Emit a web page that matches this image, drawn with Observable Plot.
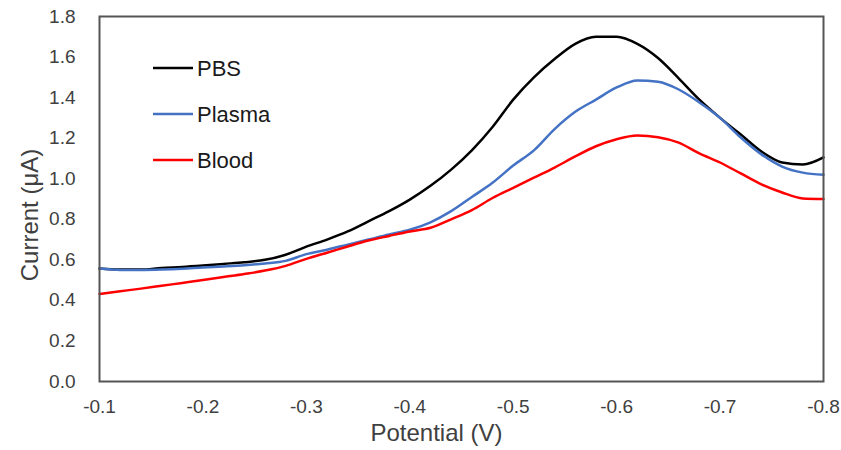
<!DOCTYPE html>
<html><head><meta charset="utf-8">
<script src="https://cdn.jsdelivr.net/npm/d3@7"></script>
<script src="https://cdn.jsdelivr.net/npm/@observablehq/plot@0.6"></script>
<style>body{margin:0;background:#fff}#chart{width:841px;height:450px}</style>
</head><body><div id="chart"></div>
<script>
const potential = [-0.10,-0.12,-0.14,-0.16,-0.18,-0.20,-0.22,-0.24,-0.26,-0.28,-0.30,-0.32,-0.34,-0.36,-0.38,-0.40,-0.42,-0.44,-0.46,-0.48,-0.50,-0.52,-0.54,-0.56,-0.58,-0.60,-0.62,-0.64,-0.66,-0.68,-0.70,-0.72,-0.74,-0.76,-0.78,-0.80];
const pbs    = [0.557,0.552,0.552,0.560,0.565,0.572,0.580,0.588,0.600,0.625,0.665,0.700,0.740,0.790,0.840,0.897,0.965,1.045,1.140,1.255,1.390,1.500,1.590,1.665,1.700,1.700,1.665,1.595,1.495,1.390,1.300,1.218,1.134,1.080,1.070,1.105];
const plasma = [0.557,0.550,0.550,0.552,0.556,0.562,0.567,0.573,0.582,0.595,0.628,0.650,0.675,0.700,0.725,0.748,0.785,0.840,0.910,0.980,1.065,1.140,1.245,1.330,1.390,1.450,1.485,1.478,1.440,1.376,1.300,1.203,1.120,1.060,1.030,1.020];
const blood  = [0.432,0.445,0.458,0.472,0.486,0.500,0.515,0.530,0.547,0.570,0.605,0.635,0.666,0.695,0.718,0.740,0.758,0.800,0.845,0.905,0.955,1.005,1.055,1.110,1.160,1.195,1.213,1.205,1.178,1.125,1.080,1.026,0.972,0.932,0.903,0.900];
const seriesNames = ["PBS","Plasma","Blood"];
const seriesColors = ["#000000","#4472C4","#FF0000"];
const xTicks = [-0.1,-0.2,-0.3,-0.4,-0.5,-0.6,-0.7,-0.8];
const yTicks = [0,0.2,0.4,0.6,0.8,1.0,1.2,1.4,1.6,1.8];
const xLabel = "Potential (V)";
const yLabel = "Current (μA)";

const seriesValues = [pbs, plasma, blood];
const rows = [];
seriesNames.forEach((name, i) => potential.forEach((v, j) => rows.push({series: name, potential: v, current: seriesValues[i][j]})));

const chart = Plot.plot({
  width: 841, height: 450,
  marginLeft: 99, marginRight: 18, marginTop: 16, marginBottom: 69,
  style: {fontFamily: "'Liberation Sans', Arial, sans-serif", fontSize: "19px", color: "#404040", background: "#fff"},
  x: {domain: [-0.1, -0.8]},
  y: {domain: [0, 1.8]},
  color: {domain: seriesNames, range: seriesColors},
  marks: [
    Plot.axisX({ticks: xTicks, tickFormat: d => d.toFixed(1), tickSize: 0, tickPadding: 18, label: null, fontSize: 19}),
    Plot.axisY({ticks: yTicks, tickFormat: d => d.toFixed(1), tickSize: 0, tickPadding: 24, label: null, fontSize: 19}),
    Plot.line(rows, {x: "potential", y: "current", stroke: "series", z: "series", strokeWidth: 2.5, curve: "monotone-x"}),
    Plot.frame({stroke: "#555555", strokeWidth: 2}),
    Plot.text([xLabel], {frameAnchor: "bottom", textAnchor: "middle", lineAnchor: "middle", dx: -25, dy: 52, fontSize: 24, text: d => d, fill: "#404040"}),
    Plot.text([yLabel], {frameAnchor: "left", textAnchor: "middle", lineAnchor: "middle", rotate: -90, dx: -69, dy: 16, fontSize: 24, text: d => d, fill: "#404040"})
  ]
});
document.getElementById("chart").appendChild(chart);

const lg = d3.select(chart).append("g")
  .attr("font-family", "'Liberation Sans', Arial, sans-serif")
  .attr("text-anchor", "start");
seriesNames.forEach((n, i) => {
  const y = 68 + i * 46;
  lg.append("line").attr("x1", 153).attr("x2", 193).attr("y1", y).attr("y2", y)
    .attr("stroke", seriesColors[i]).attr("stroke-width", 2.5);
  lg.append("text").attr("x", 197).attr("y", y).attr("dy", "0.35em")
    .attr("font-size", 22).attr("fill", "#1a1a1a").text(n);
});
</script>
</body></html>
